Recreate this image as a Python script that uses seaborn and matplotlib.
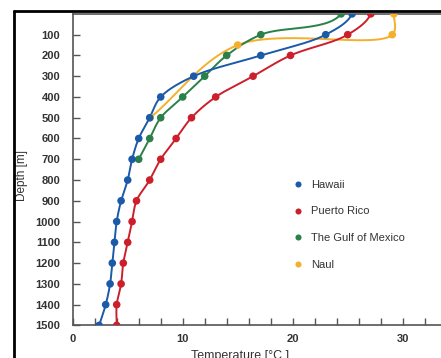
import numpy as np
import pandas as pd
import seaborn as sns
import matplotlib.pyplot as plt
from matplotlib.lines import Line2D

# values
depth = [0, 100, 200, 300, 400, 500, 600, 700, 800, 900, 1000, 1100, 1200, 1300, 1400, 1500]
hawaii = [25.4, 23.0, 17.1, 11.0, 8.0, 7.0, 6.0, 5.4, 5.0, 4.4, 4.0, 3.8, 3.6, 3.4, 3.0, 2.4]
puerto_rico = [27.1, 25.0, 19.8, 16.4, 13.0, 10.8, 9.4, 8.0, 7.0, 5.8, 5.4, 5.0, 4.6, 4.4, 4.0, 4.0]
gulf_depth = [0, 100, 200, 300, 400, 500, 600, 700]
gulf = [24.4, 17.1, 14.0, 12.0, 10.0, 8.0, 7.0, 6.0]
naul_depth = [0, 100, 150, 500]
naul = [29.2, 29.05, 15.0, 7.05]

names = ["Hawaii", "Puerto Rico", "The Gulf of Mexico", "Naul"]
colors = ["#1a5aa8", "#cc1f2b", "#2a8048", "#f4b02c"]

series = {
    "Hawaii": (hawaii, depth),
    "Puerto Rico": (puerto_rico, depth),
    "The Gulf of Mexico": (gulf, gulf_depth),
    "Naul": (naul, naul_depth),
}

rows = []
for name in names:
    t, d = series[name]
    for ti, di in zip(t, d):
        rows.append({"site": name, "temp": ti, "depth": di})
df = pd.DataFrame(rows)


def smooth(x, y, sx=11.0, sy=0.2077, n=30):
    # centripetal catmull-rom through the points, in screen-like units
    p = np.column_stack([np.array(x) * sx, np.array(y) * sy])
    first = p[0] - np.array([0, np.linalg.norm(p[1] - p[0])])
    last = 2 * p[-1] - p[-2]
    p = np.vstack([first, p, last])
    out = []
    for i in range(1, len(p) - 2):
        p0, p1, p2, p3 = p[i - 1], p[i], p[i + 1], p[i + 2]
        t0 = 0.0
        t1 = t0 + np.linalg.norm(p1 - p0) ** 0.5
        t2 = t1 + np.linalg.norm(p2 - p1) ** 0.5
        t3 = t2 + np.linalg.norm(p3 - p2) ** 0.5
        t = np.linspace(t1, t2, n)[:, None]
        a1 = (t1 - t) / (t1 - t0) * p0 + (t - t0) / (t1 - t0) * p1
        a2 = (t2 - t) / (t2 - t1) * p1 + (t - t1) / (t2 - t1) * p2
        a3 = (t3 - t) / (t3 - t2) * p2 + (t - t2) / (t3 - t2) * p3
        b1 = (t2 - t) / (t2 - t0) * a1 + (t - t0) / (t2 - t0) * a2
        b2 = (t3 - t) / (t3 - t1) * a2 + (t - t1) / (t3 - t1) * a3
        c = (t2 - t) / (t2 - t1) * b1 + (t - t1) / (t2 - t1) * b2
        out.append(c)
    out = np.vstack(out)
    return out[:, 0] / sx, out[:, 1] / sy


sns.set_style("ticks")
plt.rcParams["font.family"] = ["Liberation Sans", "DejaVu Sans"]

fig = plt.figure(figsize=(4.41, 3.58), dpi=100)
ax = fig.add_axes([72.7 / 441, (358 - 325.4) / 358, 385 / 441, (325.4 - 13.9) / 358])

for name, col in zip(names[::-1], colors[::-1]):
    t, d = series[name]
    sx, sy = smooth(t, d)
    ax.plot(sx, sy, color=col, lw=1.4, zorder=2)

sns.scatterplot(data=df.iloc[::-1], x="temp", y="depth", hue="site", hue_order=names,
                palette=colors, s=30, edgecolor="none", ax=ax, zorder=3)

ax.set_xlim(0, 35)
ax.set_ylim(1500, 0)
ax.set_xticks([0, 10, 20, 30])
ax.set_xticks(np.arange(0, 36, 2), minor=True)
ax.set_yticks(range(100, 1600, 100))
ax.tick_params(axis="both", which="both", direction="in", length=5, width=1, color="#555555")
ax.tick_params(axis="x", which="major", pad=6)
ax.tick_params(axis="y", pad=9)
for lab in ax.get_xticklabels() + ax.get_yticklabels():
    lab.set_family(["Liberation Sans Narrow", "Liberation Sans", "DejaVu Sans"])
    lab.set_fontsize(8)
    lab.set_color("#333333")
    lab.set_fontweight("bold")

for sp in ax.spines.values():
    sp.set_color("#555555")
    sp.set_linewidth(1.2)

ax.set_xlabel("Temperature [°C ]", fontsize=9, color="#333333")
ax.xaxis.set_label_coords(0.435, -0.078)
ax.set_ylabel("Depth [m]", fontsize=8.5, color="#333333")
ax.yaxis.set_label_coords(-45 / 385, 0.48)

leg = ax.legend(frameon=False, loc="upper left", bbox_to_anchor=(287 / 441, (358 - 174) / 358),
                bbox_transform=fig.transFigure, fontsize=8, handlelength=1.0,
                handletextpad=0.7, labelspacing=1.52, borderpad=0, markerscale=0.8)
for txt in leg.get_texts():
    txt.set_color("#333333")

# black border of the original screenshot
fig.add_artist(Line2D([13.5 / 441, 1], [1 - 10.5 / 358, 1 - 10.5 / 358], color="black", lw=2,
                      transform=fig.transFigure))
fig.add_artist(Line2D([13.5 / 441, 13.5 / 441], [0, 1 - 10.5 / 358], color="black", lw=2,
                      transform=fig.transFigure))

fig.savefig("out.png", dpi=100)
